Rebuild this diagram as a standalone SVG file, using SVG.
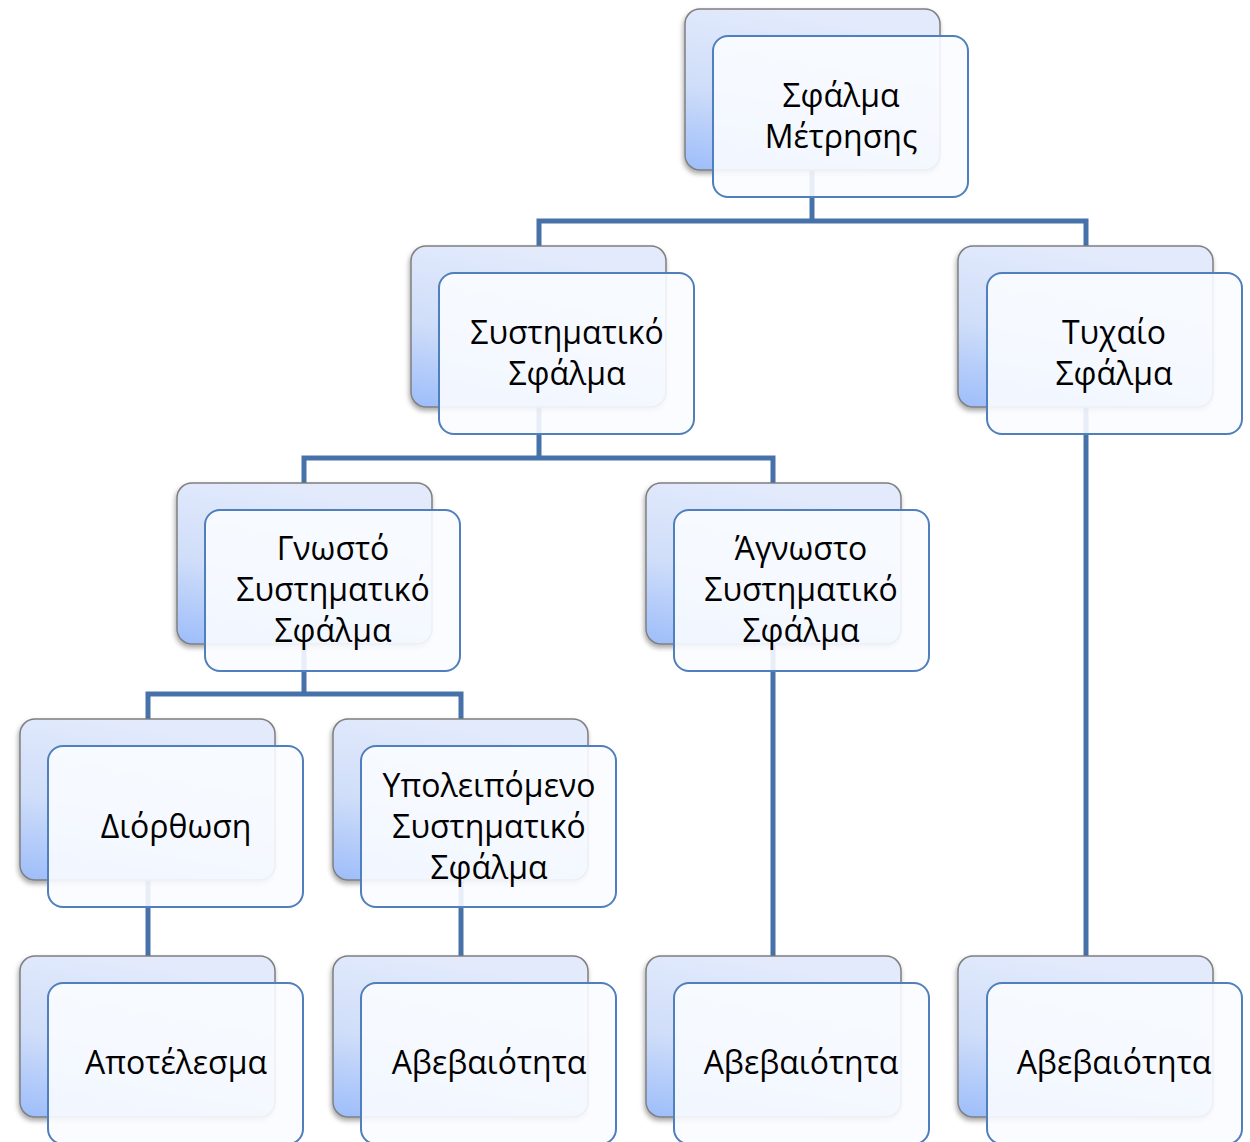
<svg xmlns="http://www.w3.org/2000/svg" width="1250" height="1142" viewBox="0 0 1250 1142">
<style>
.back{fill:url(#bg);stroke:#7f7f7f;stroke-width:1.5;filter:url(#sh)}
.front{fill:#fafcff;fill-opacity:0.9;stroke:#4f7fbd;stroke-width:2}
.lbl{font-family:"Open Sans","Liberation Sans",sans-serif;font-size:32px;fill:#000;text-anchor:middle}
.conn{fill:none;stroke:#4672a9;stroke-width:5;stroke-linejoin:miter}
</style>
<defs>
<linearGradient id="bg" x1="0.3" y1="0" x2="0" y2="1">
<stop offset="0" stop-color="#e2eafc"/>
<stop offset="0.5" stop-color="#d0def9"/>
<stop offset="1" stop-color="#9dbdfa"/>
</linearGradient>
<filter id="sh" x="-10%" y="-10%" width="120%" height="125%">
<feDropShadow dx="-1" dy="3" stdDeviation="2.5" flood-color="#000" flood-opacity="0.35"/>
</filter>
</defs>
<g id="connectors">
<path class="conn" d="M812,170 V221 M539,246 V221 H1086 V246"/>
<path class="conn" d="M539,407 V458 M304,483 V458 H773 V483"/>
<path class="conn" d="M1086,407 V956"/>
<path class="conn" d="M304,644 V694 M148,719 V694 H461 V719"/>
<path class="conn" d="M773,644 V956"/>
<path class="conn" d="M148,880 V956"/>
<path class="conn" d="M461,880 V956"/>
</g>
<g id="n1">
<rect class="back" x="685" y="9" width="255" height="161" rx="15"/>
<rect class="front" x="713" y="36" width="255" height="161" rx="15"/>
<text class="lbl" x="841" y="107">Σφάλμα</text>
<text class="lbl" x="841" y="148">Μέτρησης</text>
</g>
<g id="n2">
<rect class="back" x="411" y="246" width="255" height="161" rx="15"/>
<rect class="front" x="439" y="273" width="255" height="161" rx="15"/>
<text class="lbl" x="567" y="344">Συστηματικό</text>
<text class="lbl" x="567" y="385">Σφάλμα</text>
</g>
<g id="n3">
<rect class="back" x="958" y="246" width="255" height="161" rx="15"/>
<rect class="front" x="987" y="273" width="255" height="161" rx="15"/>
<text class="lbl" x="1114" y="344">Τυχαίο</text>
<text class="lbl" x="1114" y="385">Σφάλμα</text>
</g>
<g id="n4">
<rect class="back" x="177" y="483" width="255" height="161" rx="15"/>
<rect class="front" x="205" y="510" width="255" height="161" rx="15"/>
<text class="lbl" x="333" y="560">Γνωστό</text>
<text class="lbl" x="333" y="601">Συστηματικό</text>
<text class="lbl" x="333" y="642">Σφάλμα</text>
</g>
<g id="n5">
<rect class="back" x="646" y="483" width="255" height="161" rx="15"/>
<rect class="front" x="674" y="510" width="255" height="161" rx="15"/>
<text class="lbl" x="801" y="560">Άγνωστο</text>
<text class="lbl" x="801" y="601">Συστηματικό</text>
<text class="lbl" x="801" y="642">Σφάλμα</text>
</g>
<g id="n6">
<rect class="back" x="20" y="719" width="255" height="161" rx="15"/>
<rect class="front" x="48" y="746" width="255" height="161" rx="15"/>
<text class="lbl" x="176" y="838">Διόρθωση</text>
</g>
<g id="n7">
<rect class="back" x="333" y="719" width="255" height="161" rx="15"/>
<rect class="front" x="361" y="746" width="255" height="161" rx="15"/>
<text class="lbl" x="489" y="797">Υπολειπόμενο</text>
<text class="lbl" x="489" y="838">Συστηματικό</text>
<text class="lbl" x="489" y="879">Σφάλμα</text>
</g>
<g id="n8">
<rect class="back" x="20" y="956" width="255" height="161" rx="15"/>
<rect class="front" x="48" y="983" width="255" height="161" rx="15"/>
<text class="lbl" x="176" y="1074">Αποτέλεσμα</text>
</g>
<g id="n9">
<rect class="back" x="333" y="956" width="255" height="161" rx="15"/>
<rect class="front" x="361" y="983" width="255" height="161" rx="15"/>
<text class="lbl" x="489" y="1074">Αβεβαιότητα</text>
</g>
<g id="n10">
<rect class="back" x="646" y="956" width="255" height="161" rx="15"/>
<rect class="front" x="674" y="983" width="255" height="161" rx="15"/>
<text class="lbl" x="801" y="1074">Αβεβαιότητα</text>
</g>
<g id="n11">
<rect class="back" x="958" y="956" width="255" height="161" rx="15"/>
<rect class="front" x="987" y="983" width="255" height="161" rx="15"/>
<text class="lbl" x="1114" y="1074">Αβεβαιότητα</text>
</g>
</svg>
